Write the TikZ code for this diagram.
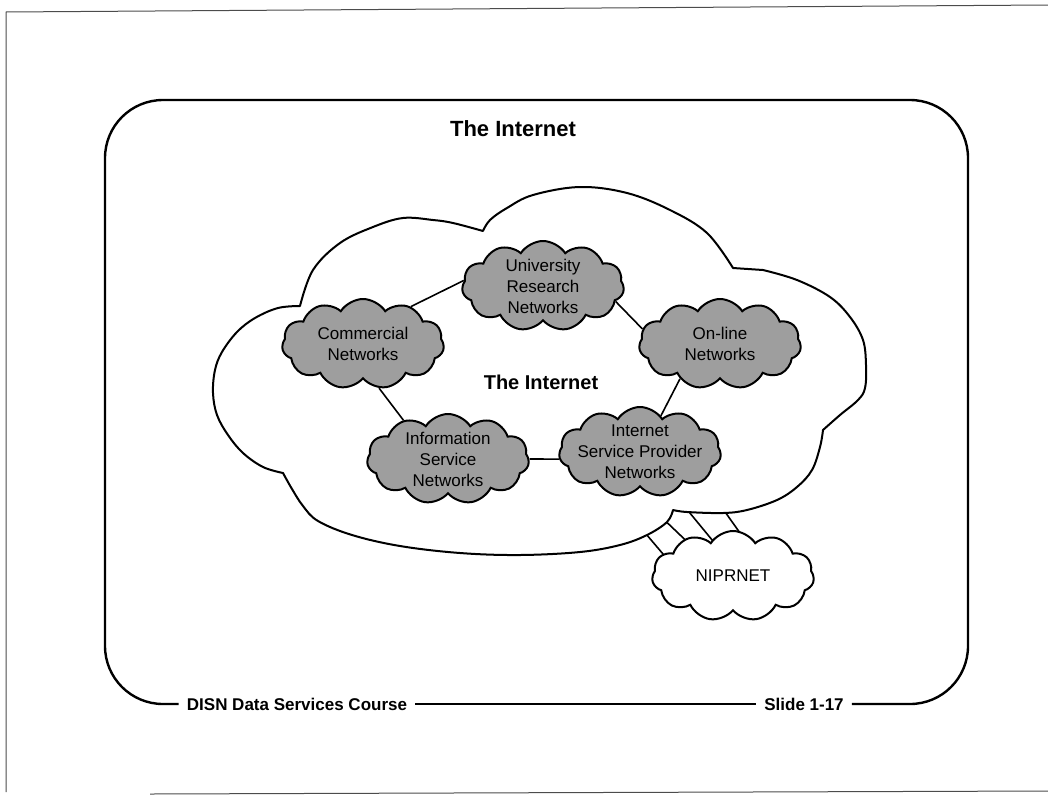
\documentclass[tikz,border=0pt]{standalone}
\usepackage{fontspec}
\setmainfont{Liberation Sans}
\usetikzlibrary{shapes.symbols}
\begin{document}
\begin{tikzpicture}[x=1pt,y=-1pt,
  pageframe/.style={line width=1pt, draw=black!70},
  panel/.style={line width=2.4pt, rounded corners=58pt},
  outline/.style={line width=2pt, line join=round},
  netcloud/.style={cloud, cloud puffs=11, cloud puff arc=115, cloud ignores aspect,
    draw, line width=2pt, fill=black!38, minimum width=162pt, minimum height=90pt,
    inner sep=0pt},
  plaincloud/.style={netcloud, fill=white, font=\fontsize{17}{20}\selectfont},
  cloudtext/.style={align=center, font=\fontsize{17}{21}\selectfont, inner sep=0pt},
  link/.style={line width=1.6pt},
  heading/.style={font=\fontsize{22}{26}\selectfont\bfseries, inner sep=0pt},
  footer/.style={font=\fontsize{17}{20}\selectfont\bfseries, inner xsep=8pt, inner ysep=0pt},
]
\useasboundingbox (0,0) rectangle (1048,798);

% page frame
\draw[pageframe] (1048,5) -- (6,12) -- (6,792);
\draw[pageframe] (150,794) -- (1048,791);

% titles and footer
\node[heading] (title) at (513,129) {The Internet};
\node[footer] (course) at (297,704) {DISN Data Services Course};
\node[footer] (slide) at (804,704) {Slide 1-17};

% slide panel, open where the footer texts sit
\draw[panel] (course.west) -- (105,704) -- (105,100) -- (968,100) -- (968,704) -- (slide.east);
\draw[panel] (course.east) -- (slide.west);

% end points of the four NIPRNET links
\coordinate (a1) at (635,521); \coordinate (a2) at (680,574);
\coordinate (b1) at (655,511); \coordinate (b2) at (700,554);
\coordinate (c1) at (680,501); \coordinate (c2) at (722,552);
\coordinate (d1) at (718,502); \coordinate (d2) at (745,540);
\draw[link] (a1) -- (a2);
\draw[link] (b1) -- (b2);
\draw[link] (c1) -- (c2);
\draw[link] (d1) -- (d2);

% the large Internet cloud
\draw[outline, fill=white]
  plot[smooth, tension=0.6] coordinates {(283,473) (263,467) (243,453) (228,435) (217,415)
     (213,393) (215,370) (222,352) (237,332) (255,318) (278,308) (300,306)}
  -- plot[smooth, tension=0.6] coordinates {(300,306) (313,270) (340,243) (373,227) (403,218)
     (433,220) (453,223) (483,231)}
  -- plot[smooth, tension=0.6] coordinates {(483,231) (490,220) (507,208) (533,195) (580,187)
     (627,193) (670,210) (707,233) (733,268)}
  -- plot[smooth, tension=0.6] coordinates {(763,270) (797,280) (830,297) (850,317) (863,340)
     (866,365) (865,388) (858,400) (840,415) (823,430)}
  -- plot[smooth, tension=0.6] coordinates {(823,430) (820,447) (812,470) (797,487) (777,500)
     (747,510) (723,513) (687,512) (673,510)}
  -- plot[smooth, tension=0.6] coordinates {(673,510) (667,522) (647,535) (620,545) (580,552)
     (520,555) (460,553) (400,546) (352,535) (318,521) (303,506) (292,489) (283,473)}
  -- cycle;

\node[heading, font=\fontsize{20}{24}\selectfont\bfseries] (core) at (541,382) {The Internet};

% member networks
\node[netcloud] (univ) at (543,286) {};
\node[cloudtext] (univ-t) at (univ) {University\\Research\\Networks};
\node[netcloud] (comm) at (363,344) {};
\node[cloudtext] (comm-t) at (comm) {Commercial\\Networks};
\node[netcloud] (online) at (720,344) {};
\node[cloudtext] (online-t) at (online) {On-line\\Networks};
\node[netcloud] (info) at (448,459) {};
\node[cloudtext] (info-t) at (info) {Information\\Service\\Networks};
\node[netcloud] (isp) at (640,452) {};
\node[cloudtext] (isp-t) at (isp) {Internet\\Service Provider\\Networks};

\draw[link] (comm.38) -- (univ.176);
\draw[link] (univ.-12) -- (online.169);
\draw[link] (online.221) -- (isp.60);
\draw[link] (comm.-70) -- (info.139);
\draw[link] (info.0) -- (isp.185);

% NIPRNET
\node[plaincloud] (nipr) at (733,576) {NIPRNET};
\end{tikzpicture}
\end{document}
